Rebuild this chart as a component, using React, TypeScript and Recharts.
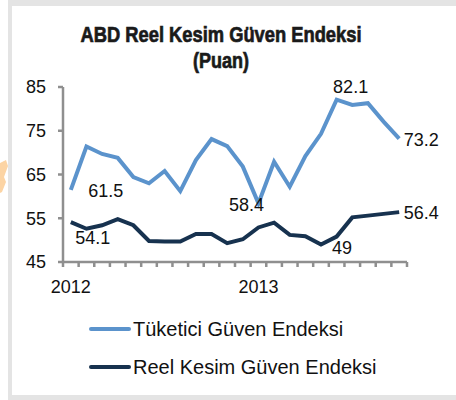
import { LineChart, Line, XAxis, YAxis, LabelList } from 'recharts'

const months = [
  '2012-01', '2012-02', '2012-03', '2012-04', '2012-05', '2012-06',
  '2012-07', '2012-08', '2012-09', '2012-10', '2012-11', '2012-12',
  '2013-01', '2013-02', '2013-03', '2013-04', '2013-05', '2013-06',
  '2013-07', '2013-08', '2013-09', '2013-10',
]

const tuketici = [
  61.5, 71.4, 69.7, 68.8, 64.4, 63.0, 65.8, 61.2, 68.3, 73.1, 71.5, 66.8,
  58.4, 67.9, 62.2, 69.2, 74.3, 82.1, 80.9, 81.3, 77.1, 73.2,
]

const reel = [
  54.1, 52.6, 53.4, 54.8, 53.4, 49.8, 49.7, 49.7, 51.4, 51.4, 49.3, 50.2,
  52.9, 54.0, 51.2, 50.9, 49.0, 50.8, 55.2, 55.6, 56.0, 56.4,
]

const yearLabels = ['2012', '2013']
const yTicks = [45, 55, 65, 75, 85]

const LIGHT = '#5b93cc'
const DARK = '#17324f'
const AXIS = '#8f8f8f'
const FONT = '"Liberation Sans", Arial, Helvetica, sans-serif'

const series = [
  { key: 'tuketici', name: 'Tüketici Güven Endeksi', color: LIGHT },
  { key: 'reel', name: 'Reel Kesim Güven Endeksi', color: DARK },
]

// which points carry a value label, and where the label sits relative to the point
const lightLabels: Record<number, [number, number]> = {
  0: [35, 1],
  12: [-12, 2],
  17: [14, -13],
  21: [22, 1],
}
const darkLabels: Record<number, [number, number]> = {
  0: [22, 16],
  16: [21, 3],
  21: [22, 1],
}

const data = months.map((m, i) => ({
  pos: i + 0.5,
  month: m,
  tuketici: tuketici[i],
  reel: reel[i],
}))

const monthTicks = months.map((_, i) => i).concat(months.length)
const yearTicks = yearLabels.map((_, i) => i * 12 + 0.5)

const makeLabel = (spots: Record<number, [number, number]>) => (props: any) => {
  const { x, y, value, index } = props
  const spot = spots[index]
  if (!spot) return null
  return (
    <text
      x={x + spot[0]}
      y={y + spot[1]}
      textAnchor="middle"
      dominantBaseline="central"
      fill="#111"
      fontSize={18}
      fontFamily={FONT}
    >
      {value}
    </text>
  )
}

const titleFont = '"Liberation Sans Narrow", "Arial Narrow", ' + FONT

const App = () => {
  return (
    <div style={{ position: 'absolute', left: 0, top: 0, width: 456, height: 400, background: '#fff', overflow: 'hidden' }}>
      <div
        style={{
          position: 'absolute',
          left: 8,
          top: 0,
          width: 460,
          height: 400,
          boxSizing: 'border-box',
          borderTop: '6px solid #e4e4e4',
          borderLeft: '4px solid #e4e4e4',
          borderBottom: '5px solid #e4e4e4',
        }}
      />
      <svg width={10} height={400} style={{ position: 'absolute', left: 0, top: 0 }}>
        <polygon points="0,163 6,160 8,166 4,177 6,182 2,192 0,193" fill="#fcd4a4" />
      </svg>

      <svg width={456} height={80} style={{ position: 'absolute', left: 0, top: 0 }}>
        <text
          x={221}
          y={41.5}
          textAnchor="middle"
          fontSize={22}
          fontWeight="bold"
          fontFamily={titleFont}
          textLength={281}
          lengthAdjust="spacingAndGlyphs"
          fill="#1a1a1a"
          stroke="#1a1a1a"
          strokeWidth={0.7}
        >
          ABD Reel Kesim Güven Endeksi
        </text>
        <text
          x={221}
          y={68}
          textAnchor="middle"
          fontSize={22}
          fontWeight="bold"
          fontFamily={titleFont}
          textLength={56}
          lengthAdjust="spacingAndGlyphs"
          fill="#1a1a1a"
          stroke="#1a1a1a"
          strokeWidth={0.7}
        >
          (Puan)
        </text>
      </svg>

      <svg width={456} height={80} style={{ position: 'absolute', left: 0, top: 310 }}>
        {series.map((s, i) => (
          <g key={s.key} transform={`translate(0, ${19 + i * 38})`}>
            <line x1={91} x2={129} y1={0} y2={0} stroke={s.color} strokeWidth={4} strokeLinecap="round" />
            <text x={133} y={0} dominantBaseline="central" fontSize={20} fontFamily={FONT} fill="#111">
              {s.name}
            </text>
          </g>
        ))}
      </svg>

      <div style={{ position: 'absolute', left: 0, top: 0, zIndex: 2 }}>
        <LineChart width={456} height={400} data={data} margin={{ top: 87, right: 49, left: 0, bottom: 88 }}>
          <XAxis
            xAxisId="a"
            dataKey="pos"
            type="number"
            domain={[0, months.length]}
            ticks={monthTicks}
            interval={0}
            tickFormatter={() => ''}
            height={10}
            tickSize={5}
            stroke={AXIS}
            strokeWidth={2.5}
          />
          <XAxis
            xAxisId="b"
            dataKey="pos"
            type="number"
            domain={[0, months.length]}
            ticks={yearTicks}
            interval={0}
            tickFormatter={(v: number) => yearLabels[Math.floor(v / 12)]}
            height={40}
            axisLine={false}
            tickLine={false}
            tickSize={0}
            tickMargin={8}
            tick={{ fill: '#111', fontSize: 18, fontFamily: FONT }}
          />
          <YAxis
            domain={[45, 85]}
            ticks={yTicks}
            interval={0}
            width={63}
            tickSize={5}
            tickMargin={12}
            stroke={AXIS}
            strokeWidth={2.5}
            tick={{ fill: '#111', fontSize: 18, fontFamily: FONT }}
          />
          <Line
            xAxisId="a"
            type="linear"
            dataKey="tuketici"
            name={series[0].name}
            stroke={LIGHT}
            strokeWidth={4}
            dot={false}
            activeDot={false}
            isAnimationActive={false}
          >
            <LabelList dataKey="tuketici" content={makeLabel(lightLabels)} />
          </Line>
          <Line
            xAxisId="a"
            type="linear"
            dataKey="reel"
            name={series[1].name}
            stroke={DARK}
            strokeWidth={4}
            dot={false}
            activeDot={false}
            isAnimationActive={false}
          >
            <LabelList dataKey="reel" content={makeLabel(darkLabels)} />
          </Line>
        </LineChart>
      </div>
    </div>
  )
}

export default App
